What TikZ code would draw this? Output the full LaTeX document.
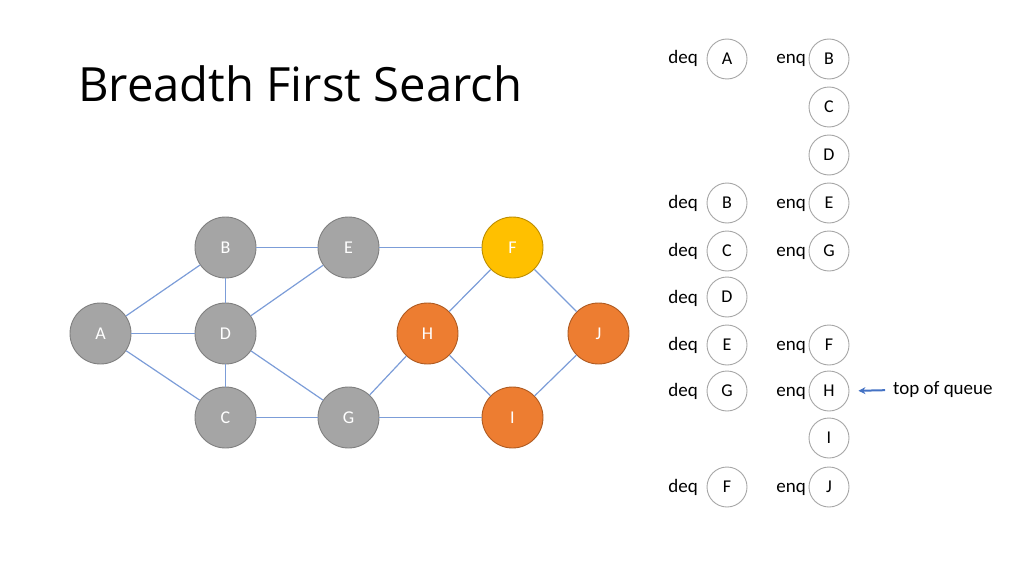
\documentclass[tikz,border=0pt]{standalone}
\usepackage{fontspec}
\setmainfont{Carlito}
\newfontfamily\titlefont{Open Sans}
\usetikzlibrary{arrows.meta}

\definecolor{edgeblue}{HTML}{7C9DD8}
\definecolor{arrowblue}{HTML}{4472C4}
\definecolor{grayfill}{HTML}{A5A5A5}
\definecolor{grayline}{HTML}{7F7F7F}
\definecolor{goldfill}{HTML}{FFC000}
\definecolor{goldline}{HTML}{BC8C00}
\definecolor{orangefill}{HTML}{ED7D31}
\definecolor{orangeline}{HTML}{AE5A21}
\definecolor{queueline}{HTML}{A6A6A6}

\tikzset{
	vertex/.style={circle, minimum size=61pt, inner sep=0pt, line width=0.9pt,
		text=white, font=\fontsize{18}{20}\selectfont},
	grayvertex/.style={vertex, fill=grayfill, draw=grayline},
	goldvertex/.style={vertex, fill=goldfill, draw=goldline},
	orangevertex/.style={vertex, fill=orangefill, draw=orangeline},
	edge/.style={draw=edgeblue, line width=1.2pt},
	qitem/.style={circle, minimum size=40pt, inner sep=0pt, draw=queueline,
		line width=0.9pt, fill=white, font=\fontsize{18}{20}\selectfont},
	qlabel/.style={anchor=base east, inner sep=0pt, font=\fontsize{19}{21}\selectfont}
}

\begin{document}
\begin{tikzpicture}[x=1pt, y=-1pt]

	\useasboundingbox (0,0) rectangle (1024,575);

	% titre
	\node[anchor=base west, inner sep=0pt, font=\titlefont\fontsize{47.2}{52}\selectfont]
		(title) at (78,102) {Breadth First Search};

	% graphe
	\node[grayvertex] (A) at (100.5,333.5) {A};
	\node[grayvertex] (B) at (225.5,247.5) {B};
	\node[grayvertex] (D) at (225.5,333.5) {D};
	\node[grayvertex] (C) at (225.5,417.5) {C};
	\node[grayvertex] (E) at (348.5,247.5) {E};
	\node[grayvertex] (G) at (348.5,417.5) {G};
	\node[goldvertex] (F) at (512.5,247.5) {F};
	\node[orangevertex] (H) at (427.5,333.5) {H};
	\node[orangevertex] (J) at (598.5,333.5) {J};
	\node[orangevertex] (I) at (512.5,417.5) {I};

	% aretes
	\draw[edge] (A) -- (B);
	\draw[edge] (A) -- (D);
	\draw[edge] (A) -- (C);
	\draw[edge] (B) -- (D);
	\draw[edge] (D) -- (C);
	\draw[edge] (B) -- (E);
	\draw[edge] (D) -- (E);
	\draw[edge] (D) -- (G);
	\draw[edge] (C) -- (G);
	\draw[edge] (E) -- (F);
	\draw[edge] (G) -- (H);
	\draw[edge] (G) -- (I);
	\draw[edge] (F) -- (H);
	\draw[edge] (F) -- (J);
	\draw[edge] (H) -- (I);
	\draw[edge] (J) -- (I);

	% file d'attente
	\node[qitem] (deqA) at (727,59) {A};
	\node[qitem] (enqB) at (829,59) {B};
	\node[qitem] (enqC) at (829,107) {C};
	\node[qitem] (enqD) at (829,155) {D};
	\node[qitem] (deqB) at (727,203) {B};
	\node[qitem] (enqE) at (829,203) {E};
	\node[qitem] (deqC) at (727,251) {C};
	\node[qitem] (enqG) at (829,251) {G};
	\node[qitem] (deqD) at (727,297) {D};
	\node[qitem] (deqE) at (727,345) {E};
	\node[qitem] (enqF) at (829,345) {F};
	\node[qitem] (deqG) at (727,391) {G};
	\node[qitem] (enqH) at (829,391) {H};
	\node[qitem] (enqI) at (829,438) {I};
	\node[qitem] (deqF) at (727,487) {F};
	\node[qitem] (enqJ) at (829,487) {J};

	\node[qlabel] (ldeqA) at (698,64) {deq};
	\node[qlabel] (lenqB) at (806,64) {enq};
	\node[qlabel] (ldeqB) at (698,208) {deq};
	\node[qlabel] (lenqE) at (806,208) {enq};
	\node[qlabel] (ldeqC) at (698,256) {deq};
	\node[qlabel] (lenqG) at (806,256) {enq};
	\node[qlabel] (ldeqD) at (698,303) {deq};
	\node[qlabel] (ldeqE) at (698,350) {deq};
	\node[qlabel] (lenqF) at (806,350) {enq};
	\node[qlabel] (ldeqG) at (698,396) {deq};
	\node[qlabel] (lenqH) at (806,396) {enq};
	\node[qlabel] (ldeqF) at (698,492) {deq};
	\node[qlabel] (lenqJ) at (806,492) {enq};

	% haut de la file
	\node[anchor=west, inner sep=0pt, font=\fontsize{19}{21}\selectfont]
		(topq) at (893,390) {top of queue};
	\draw[-{Stealth[length=7pt, width=7pt]}, draw=arrowblue, line width=2pt,
		shorten <=8pt, shorten >=9pt] (topq.west) -- (enqH.east);

\end{tikzpicture}
\end{document}
